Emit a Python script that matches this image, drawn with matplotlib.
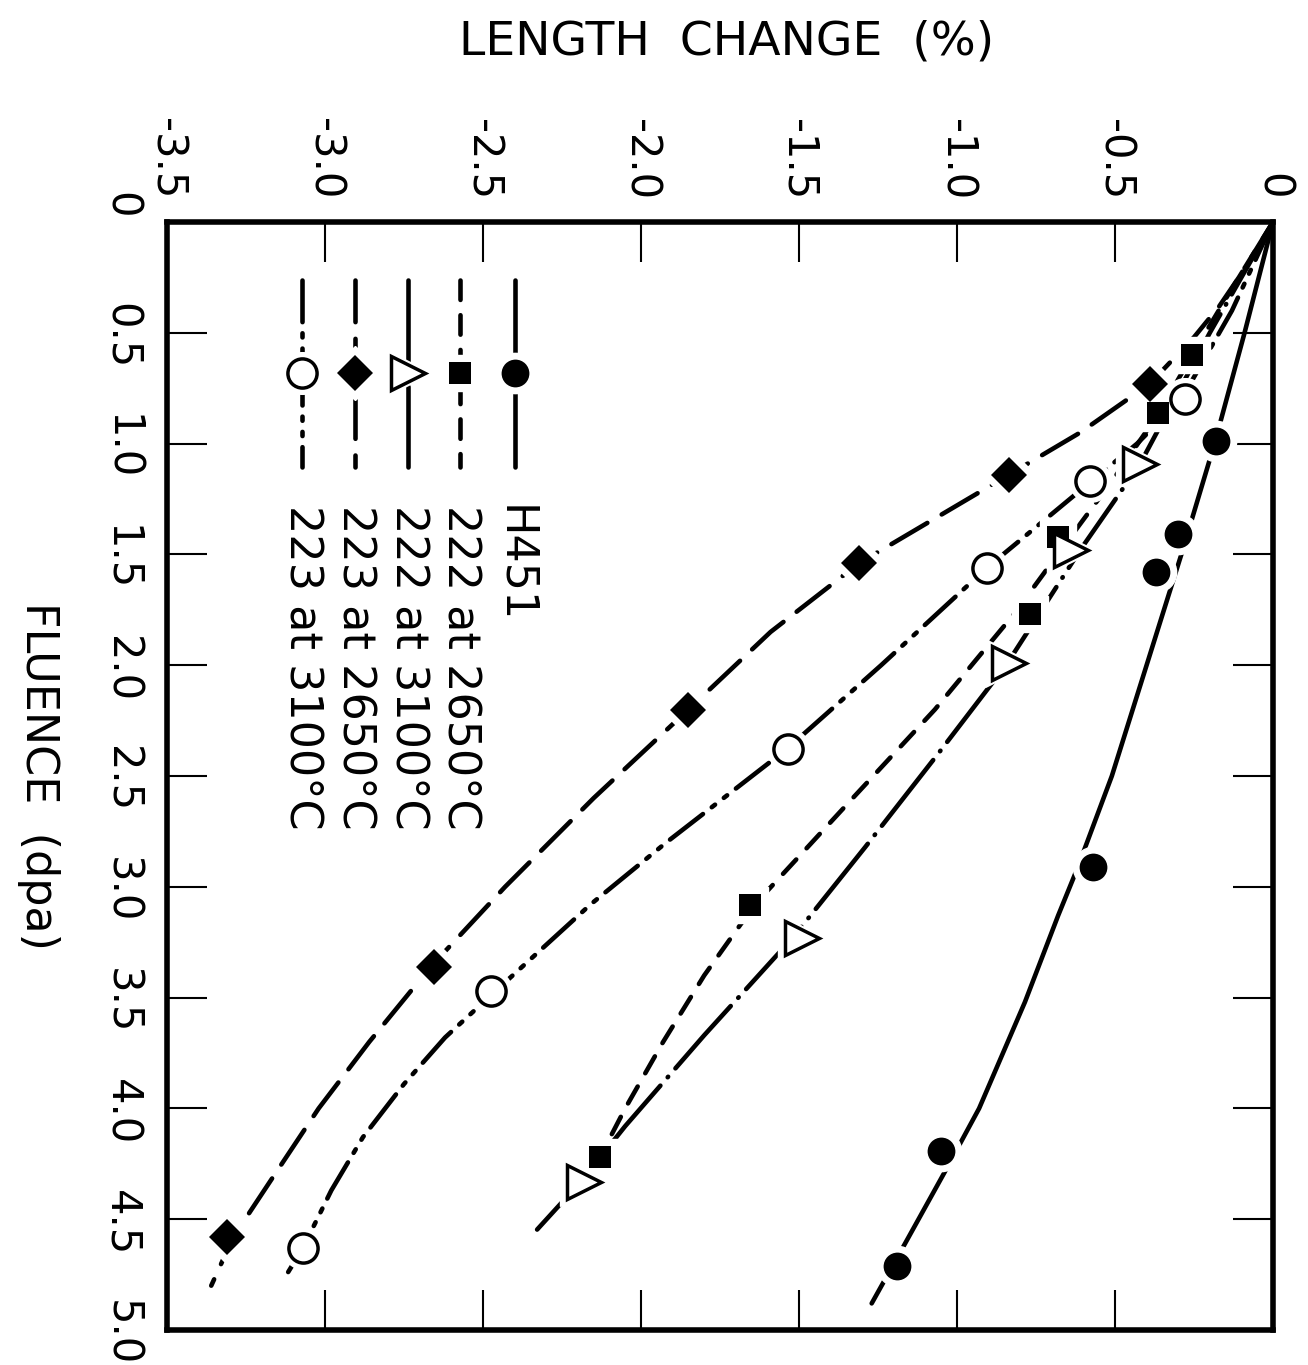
import numpy as np
import matplotlib
matplotlib.use("Agg")
import matplotlib.pyplot as plt
import matplotlib.transforms as mtransforms

plt.rcParams['font.family'] = ['DejaVu Sans']
plt.rcParams['lines.scale_dashes'] = False

# measured points: fluence (dpa) and length change (%)
h451_f = [0.99, 1.41, 1.58, 2.91, 4.19, 4.71]
h451_c = [-0.18, -0.30, -0.37, -0.57, -1.05, -1.19]
g222_2650_f = [0.60, 0.86, 1.42, 1.77, 3.08, 4.22]
g222_2650_c = [-0.256, -0.364, -0.68, -0.77, -1.655, -2.13]
g222_3100_f = [1.09, 1.48, 1.99, 3.23, 4.33]
g222_3100_c = [-0.42, -0.64, -0.835, -1.49, -2.18]
g223_2650_f = [0.73, 1.14, 1.54, 2.20, 3.36, 4.58]
g223_2650_c = [-0.39, -0.835, -1.31, -1.85, -2.655, -3.31]
g223_3100_f = [0.80, 1.17, 1.56, 2.38, 3.47, 4.63]
g223_3100_c = [-0.28, -0.58, -0.905, -1.535, -2.475, -3.07]

# hand-drawn trend curves
h451_fit_f = [0, 0.5, 1.0, 1.5, 2.0, 2.5, 2.92, 3.13, 3.52, 4.0, 4.29, 4.65, 4.88]
h451_fit_c = [0, -0.09, -0.185, -0.29, -0.40, -0.51, -0.62, -0.68, -0.785, -0.93, -1.04, -1.18, -1.27]
g222_2650_fit_f = [0, 0.3, 0.6, 0.86, 1.15, 1.42, 1.77, 2.2, 2.6, 3.08, 3.4, 3.7, 4.0, 4.22]
g222_2650_fit_c = [0, -0.13, -0.256, -0.36, -0.50, -0.64, -0.82, -1.07, -1.33, -1.64, -1.80, -1.93, -2.05, -2.13]
g222_3100_fit_f = [0, 0.5, 1.09, 1.48, 1.99, 2.4, 2.82, 3.23, 3.67, 4.08, 4.33, 4.58]
g222_3100_fit_c = [0, -0.2, -0.42, -0.61, -0.84, -1.06, -1.29, -1.52, -1.80, -2.05, -2.19, -2.35]
g223_2650_fit_f = [0, 0.25, 0.38, 0.52, 0.73, 0.95, 1.14, 1.54, 1.85, 2.2, 2.6, 3.0, 3.36, 3.7, 4.0, 4.3, 4.58, 4.80]
g223_2650_fit_c = [0, -0.108, -0.17, -0.25, -0.39, -0.61, -0.835, -1.31, -1.59, -1.85, -2.15, -2.43, -2.665, -2.86, -3.02, -3.16, -3.29, -3.36]
g223_3100_fit_f = [0, 0.4, 0.8, 1.0, 1.17, 1.56, 2.0, 2.38, 2.8, 3.08, 3.47, 3.68, 3.89, 4.13, 4.37, 4.63, 4.77]
g223_3100_fit_c = [0, -0.13, -0.29, -0.43, -0.575, -0.905, -1.24, -1.54, -1.92, -2.16, -2.46, -2.62, -2.75, -2.88, -2.98, -3.07, -3.13]

labels = ['H451', '222 at 2650°C', '222 at 3100°C', '223 at 2650°C', '223 at 3100°C']
x_ticks = [-3.5, -3.0, -2.5, -2.0, -1.5, -1.0, -0.5, 0]
x_ticklabels = ['-3.5', '-3.0', '-2.5', '-2.0', '-1.5', '-1.0', '-0.5', '0']
y_ticks = [0, 0.5, 1.0, 1.5, 2.0, 2.5, 3.0, 3.5, 4.0, 4.5, 5.0]
y_ticklabels = ['0', '0.5', '1.0', '1.5', '2.0', '2.5', '3.0', '3.5', '4.0', '4.5', '5.0']

lw = 3.3
styles = [
    dict(ls='-', marker='o', ms=20, mfc='black', mew=0),
    dict(ls=(0, (14, 11)), marker='s', ms=16.5, mfc='black', mew=0),
    dict(ls=(0, (60, 8, 0.5, 8)), marker='>', ms=25, mfc='white', mew=2.5),
    dict(ls=(0, (30, 12)), marker='D', ms=18.5, mfc='black', mew=0),
    dict(ls=(0, (30, 8, 3, 8, 3, 8)), marker='o', ms=21, mfc='white', mew=2.5),
]
points = [(h451_f, h451_c), (g222_2650_f, g222_2650_c), (g222_3100_f, g222_3100_c),
          (g223_2650_f, g223_2650_c), (g223_3100_f, g223_3100_c)]
curves = [(h451_fit_f, h451_fit_c), (g222_2650_fit_f, g222_2650_fit_c),
          (g222_3100_fit_f, g222_3100_fit_c), (g223_2650_fit_f, g223_2650_fit_c),
          (g223_3100_fit_f, g223_3100_fit_c)]

fig = plt.figure(figsize=(13.08, 13.65), dpi=100)
ax = fig.add_axes([167/1308, 1-1330/1365, 1106/1308, 1108/1365])

for st, (pf, pc), (cf, cc) in zip(styles, points, curves):
    ax.plot(cc, cf, color='black', lw=lw, ls=st['ls'], dash_capstyle='round',
            solid_capstyle='round', solid_joinstyle='round', zorder=2)
    # white halo so the line breaks around each symbol
    ax.plot(pc, pf, ls='none', marker=st['marker'], ms=st['ms']+9, mfc='white',
            mec='white', zorder=3)
    ax.plot(pc, pf, ls='none', marker=st['marker'], ms=st['ms'], mfc=st['mfc'],
            mec='black', mew=st['mew'], zorder=4)

# key drawn as vertical strokes, text reading downward
key_x = [0.3146, 0.2649, 0.2179, 0.1700, 0.1221]
for kx, st, lab in zip(key_x, styles, labels):
    ax.plot([kx, kx], [0.9477, 0.7789], transform=ax.transAxes, color='black', lw=lw,
            ls=st['ls'], dash_capstyle='round', solid_capstyle='round', zorder=2)
    ax.plot([kx], [0.8637], transform=ax.transAxes, ls='none', marker=st['marker'],
            ms=st['ms']+9, mfc='white', mec='white', zorder=3)
    ax.plot([kx], [0.8637], transform=ax.transAxes, ls='none', marker=st['marker'],
            ms=st['ms'], mfc=st['mfc'], mec='black', mew=st['mew'], zorder=4)
    ax.text(kx, 0.745, lab, transform=ax.transAxes, rotation=-90, ha='center',
            va='top', fontsize=32)

ax.set_xlim(-3.5, 0)
ax.set_ylim(5.0, 0)
ax.set_xticks(x_ticks)
ax.set_xticklabels(x_ticklabels)
ax.set_yticks(y_ticks)
ax.set_yticklabels(y_ticklabels)
ax.tick_params(direction='in', length=29, width=1.5, top=True, right=True,
               labeltop=True, labelbottom=False, labelsize=30, labelrotation=-90)
ax.tick_params(axis='x', pad=16)
ax.tick_params(axis='y', pad=18)
# rotated fluence numbers sit a little low; nudge them up onto their ticks
nudge = mtransforms.ScaledTranslation(0, 0.13, fig.dpi_scale_trans)
for t in ax.get_yticklabels():
    t.set_transform(t.get_transform() + nudge)
for sp in ax.spines.values():
    sp.set_linewidth(4)

fig.text(727/1308, 1-42/1365, 'LENGTH  CHANGE  (%)', ha='center', va='center', fontsize=34)
fig.text(38/1308, 1-776/1365, 'FLUENCE  (dpa)', ha='center', va='center', rotation=-90,
         fontsize=32)

fig.savefig('out.png', dpi=100)
